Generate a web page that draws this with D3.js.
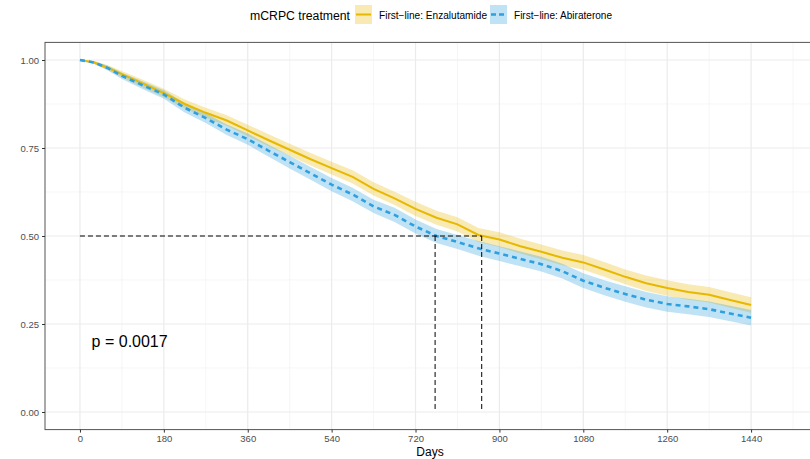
<!DOCTYPE html>
<html>
<head>
<meta charset="utf-8">
<script src="https://cdn.jsdelivr.net/npm/d3@7"></script>
<style>
  body { margin: 0; background: #fff; }
  svg { display: block; font-family: "Liberation Sans", Arial, sans-serif; }
</style>
</head>
<body>
<svg id="chart" width="810" height="459"></svg>
<script>
// survival estimates (days since start of treatment)
var days = [0, 30, 60, 90, 135, 180, 225, 270, 315, 360, 405, 450, 495, 540, 585, 630, 675, 720,
  765, 810, 855, 900, 945, 990, 1035, 1080, 1125, 1170, 1215, 1260, 1305, 1350, 1395, 1440];
var enzaSurv = [1.000, 0.993, 0.978, 0.960, 0.933, 0.906, 0.875, 0.850, 0.828, 0.800, 0.772, 0.745,
  0.718, 0.693, 0.668, 0.634, 0.607, 0.577, 0.552, 0.533, 0.503, 0.490, 0.471, 0.455, 0.438, 0.425,
  0.405, 0.384, 0.366, 0.352, 0.341, 0.333, 0.318, 0.304];
var abiSurv = [1.000, 0.993, 0.977, 0.955, 0.928, 0.902, 0.864, 0.835, 0.802, 0.775, 0.742, 0.710,
  0.678, 0.646, 0.618, 0.584, 0.560, 0.527, 0.500, 0.483, 0.465, 0.450, 0.435, 0.420, 0.400, 0.373,
  0.353, 0.335, 0.319, 0.307, 0.300, 0.292, 0.280, 0.268];
// half width of the 95% bands
var enzaCI = [0, 0.004, 0.007, 0.009, 0.011, 0.012, 0.013, 0.014, 0.015, 0.016, 0.017, 0.017, 0.018,
  0.018, 0.019, 0.019, 0.019, 0.020, 0.020, 0.020, 0.020, 0.021, 0.021, 0.021, 0.021, 0.021, 0.021,
  0.021, 0.022, 0.022, 0.022, 0.022, 0.022, 0.022];
var abiCI = [0, 0.004, 0.007, 0.009, 0.011, 0.012, 0.013, 0.014, 0.015, 0.016, 0.017, 0.018, 0.018,
  0.019, 0.019, 0.019, 0.020, 0.020, 0.020, 0.020, 0.021, 0.021, 0.021, 0.021, 0.021, 0.021, 0.021,
  0.022, 0.022, 0.022, 0.022, 0.022, 0.022, 0.022];
var medians = [762, 862];  // abiraterone, enzalutamide
var xTicks = [0, 180, 360, 540, 720, 900, 1080, 1260, 1440];
var xMinor = [90, 270, 450, 630, 810, 990, 1170, 1350, 1530];
var yTicks = [0, 0.25, 0.5, 0.75, 1];
var yMinor = [0.125, 0.375, 0.625, 0.875];
var groups = ["First\u2212line: Enzalutamide", "First\u2212line: Abiraterone"];
var colors = ["#E7B800", "#2E9FDF"];
var pLabel = "p = 0.0017";

var svg = d3.select("#chart");
var x = d3.scaleLinear().domain([-75, 1590]).range([45, 821]);
var y = d3.scaleLinear().domain([-0.05, 1.05]).range([429.6, 42.4]);

// grid
var grid = svg.append("g");
grid.selectAll(".xmin").data(xMinor).enter().append("line")
  .attr("x1", d => x(d)).attr("x2", d => x(d)).attr("y1", y(-0.05)).attr("y2", y(1.05))
  .attr("stroke", "#f2f2f2").attr("stroke-width", 0.7);
grid.selectAll(".ymin").data(yMinor).enter().append("line")
  .attr("x1", x(-75)).attr("x2", x(1590)).attr("y1", d => y(d)).attr("y2", d => y(d))
  .attr("stroke", "#f2f2f2").attr("stroke-width", 0.7);
grid.selectAll(".xmaj").data(xTicks).enter().append("line")
  .attr("x1", d => x(d)).attr("x2", d => x(d)).attr("y1", y(-0.05)).attr("y2", y(1.05))
  .attr("stroke", "#ebebeb").attr("stroke-width", 1.2);
grid.selectAll(".ymaj").data(yTicks).enter().append("line")
  .attr("x1", x(-75)).attr("x2", x(1590)).attr("y1", d => y(d)).attr("y2", d => y(d))
  .attr("stroke", "#ebebeb").attr("stroke-width", 1.2);

var series = [
  { surv: enzaSurv, ci: enzaCI, color: colors[0], dash: null, width: 2 },
  { surv: abiSurv, ci: abiCI, color: colors[1], dash: "5,4", width: 2.6 }
];

var area = d3.area()
  .x((d, i) => x(days[i]))
  .y0(d => y(d.lo)).y1(d => y(d.hi));
var line = d3.line()
  .x((d, i) => x(days[i]))
  .y(d => y(d));

series.forEach(function (s) {
  var band = s.surv.map((v, i) => ({ lo: v - s.ci[i], hi: Math.min(1, v + s.ci[i]) }));
  svg.append("path").datum(band).attr("d", area)
    .attr("fill", s.color).attr("fill-opacity", 0.3);
});
series.forEach(function (s) {
  svg.append("path").datum(s.surv).attr("d", line)
    .attr("fill", "none").attr("stroke", s.color).attr("stroke-width", s.width)
    .attr("stroke-dasharray", s.dash);
});

// median survival lines
svg.append("line")
  .attr("x1", x(0)).attr("x2", x(d3.max(medians))).attr("y1", y(0.5)).attr("y2", y(0.5))
  .attr("stroke", "#000").attr("stroke-width", 1).attr("stroke-dasharray", "5,3");
svg.selectAll(".med").data(medians).enter().append("line")
  .attr("x1", d => x(d)).attr("x2", d => x(d)).attr("y1", y(0.5)).attr("y2", y(0))
  .attr("stroke", "#000").attr("stroke-width", 1).attr("stroke-dasharray", "5,3");

// p value
svg.append("text").attr("x", x(25)).attr("y", y(0.185))
  .attr("font-size", 16).attr("fill", "#000").text(pLabel);

// panel border
svg.append("rect").attr("x", x(-75)).attr("y", y(1.05))
  .attr("width", x(1590) - x(-75)).attr("height", y(-0.05) - y(1.05))
  .attr("fill", "none").attr("stroke", "#555").attr("stroke-width", 1);

// axes
var xAxis = svg.append("g").attr("transform", "translate(0," + y(-0.05) + ")")
  .call(d3.axisBottom(x).tickValues(xTicks).tickSize(3).tickPadding(3).tickFormat(d3.format("d")));
var yAxis = svg.append("g").attr("transform", "translate(" + x(-75) + ",0)")
  .call(d3.axisLeft(y).tickValues(yTicks).tickSize(3).tickPadding(3).tickFormat(d3.format(".2f")));
[xAxis, yAxis].forEach(function (a) {
  a.select(".domain").remove();
  a.selectAll(".tick line").attr("stroke", "#333");
  a.selectAll(".tick text").attr("fill", "#4d4d4d").attr("font-size", 9.5)
    .attr("font-family", "'Liberation Sans', Arial, sans-serif");
});

svg.append("text").attr("x", 430).attr("y", 456).attr("text-anchor", "middle")
  .attr("font-size", 12).attr("fill", "#000").text("Days");

// legend
var leg = svg.append("g");
leg.append("text").attr("x", 250).attr("y", 20).attr("font-size", 12.5).attr("fill", "#000")
  .attr("textLength", 100).attr("lengthAdjust", "spacingAndGlyphs")
  .text("mCRPC treatment");
var legX = [355, 490];
var textX = [379, 514];
var textW = [108, 98];
groups.forEach(function (g, i) {
  leg.append("rect").attr("x", legX[i]).attr("y", 5).attr("width", 17).attr("height", 19)
    .attr("fill", colors[i]).attr("fill-opacity", 0.3);
  leg.append("line").attr("x1", legX[i] + 1).attr("x2", legX[i] + 16).attr("y1", 14.5).attr("y2", 14.5)
    .attr("stroke", colors[i]).attr("stroke-width", series[i].width)
    .attr("stroke-dasharray", i === 1 ? "5,3" : null);
  leg.append("text").attr("x", textX[i]).attr("y", 18.5).attr("font-size", 10).attr("fill", "#000")
    .attr("textLength", textW[i]).attr("lengthAdjust", "spacingAndGlyphs")
    .text(g);
});
</script>
</body>
</html>
